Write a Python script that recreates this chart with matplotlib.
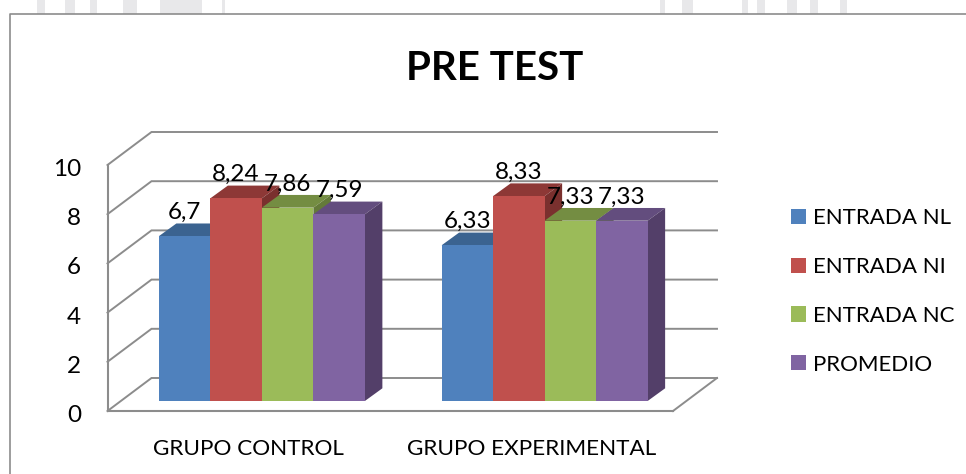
import matplotlib
matplotlib.use('Agg')
import matplotlib.pyplot as plt
from matplotlib.lines import Line2D
from matplotlib.patches import Rectangle
from matplotlib.transforms import ScaledTranslation

plt.rcParams['font.family'] = ['Lato', 'DejaVu Sans']

# Data
groups = ['GRUPO CONTROL', 'GRUPO EXPERIMENTAL']
entrada_nl = [6.7, 6.33]
entrada_ni = [8.24, 8.33]
entrada_nc = [7.86, 7.33]
promedio = [7.59, 7.33]
series_names = ['ENTRADA NL', 'ENTRADA NI', 'ENTRADA NC', 'PROMEDIO']
y_ticks = [0, 2, 4, 6, 8, 10]

# Colors: front, top, side
FRONT = ['#4F81BD', '#C0504D', '#9BBB59', '#8064A2']
TOP = ['#3B6390', '#8D3836', '#748D42', '#634D7E']
SIDE = ['#33557C', '#7A302E', '#647A39', '#533F69']
GRID = '#8C8C8C'

W, H = 966, 474
fig = plt.figure(figsize=(W / 100, H / 100), dpi=100, facecolor='white')


def fig_x(px):
    return px / W


def fig_y(px):
    return 1 - px / H


# Faint scan marks above the chart frame
for x0, x1 in [(37, 45), (65, 75), (90, 97), (123, 137), (160, 202), (222, 225),
               (660, 665), (682, 693), (742, 748), (757, 765), (787, 797), (810, 818), (840, 847)]:
    fig.add_artist(Rectangle((fig_x(x0), fig_y(14)), (x1 - x0) / W, 14 / H,
                             transform=fig.transFigure, color='#E8E8EA', lw=0))

# Chart frame, runs off the right and bottom
fig.add_artist(Line2D([fig_x(9.5), fig_x(9.5), 1], [0, fig_y(14), fig_y(14)],
                      color=GRID, lw=1.2, transform=fig.transFigure))

# Front plane of the 3D box
LEFT, RIGHT, BOTTOM, TOP_PX = 107.5, 673, 411, 165
ax = fig.add_axes([fig_x(LEFT), fig_y(BOTTOM), (RIGHT - LEFT) / W, (BOTTOM - TOP_PX) / H])
ax.set_xlim(0, len(groups))
ax.set_ylim(0, 10)
ax.patch.set_visible(False)

# Pixels to data units
ux = len(groups) / (RIGHT - LEFT)
uy = 10 / (BOTTOM - TOP_PX)

# Depth of the box, and where the bars sit in it
box_dx, box_dy = 44 * ux, 33 * uy
base_dx, base_dy = 13 * ux, 10 * uy
bar_dx, bar_dy = 17.5 * ux, 12.7 * uy
bar_w = 51.5 * ux

# Walls
for t in y_ticks:
    ax.plot([0, box_dx, len(groups) + box_dx], [t, t + box_dy, t + box_dy],
            color=GRID, lw=1.4, clip_on=False, zorder=1, solid_joinstyle='miter')
ax.plot([len(groups), len(groups) + box_dx], [0, box_dy], color=GRID, lw=1.4, clip_on=False, zorder=1)

# Bars, left to right so the nearer ones cover the side faces
all_series = [entrada_nl, entrada_ni, entrada_nc, promedio]
handles = []
for i, values in enumerate(all_series):
    lefts = [g + 0.5 + (i - 2) * bar_w + base_dx for g in range(len(groups))]
    for x, v in zip(lefts, values):
        top_y = v + base_dy
        ax.fill([x, x + bar_dx, x + bar_w + bar_dx, x + bar_w],
                [top_y, top_y + bar_dy, top_y + bar_dy, top_y],
                color=TOP[i], lw=0, clip_on=False, zorder=3 + i)
        ax.fill([x + bar_w, x + bar_w + bar_dx, x + bar_w + bar_dx, x + bar_w],
                [base_dy, base_dy + bar_dy, top_y + bar_dy, top_y],
                color=SIDE[i], lw=0, clip_on=False, zorder=3 + i)
    bars = ax.bar(lefts, values, bar_w, bottom=base_dy, align='edge', color=FRONT[i],
                  lw=0, clip_on=False, zorder=3 + i, label=series_names[i])
    handles.append(bars)
    for x, v in zip(lefts, values):
        ax.annotate(str(v).replace('.', ','), (x + bar_w / 2, v + base_dy), xytext=(0, 17),
                    textcoords='offset points', ha='center', va='center',
                    fontsize=17.5, color='black', zorder=20, annotation_clip=False)

# Axes
for side in ['top', 'right']:
    ax.spines[side].set_visible(False)
for side in ['left', 'bottom']:
    ax.spines[side].set_color(GRID)
    ax.spines[side].set_linewidth(1.5)
    ax.spines[side].set_zorder(2)
ax.set_yticks(y_ticks)
ax.set_xticks([g + 0.5 for g in range(len(groups))])
ax.set_xticklabels(groups)
ax.tick_params(axis='y', length=0, pad=19, labelsize=17.5)
ax.tick_params(axis='x', length=0, pad=20.5, labelsize=16.2)

# Value labels on the axis sit a little under their gridlines
shift = ScaledTranslation(0, -2.5 / 100, fig.dpi_scale_trans)
for lab in ax.get_yticklabels():
    lab.set_transform(lab.get_transform() + shift)

fig.text(fig_x(495), fig_y(68), 'PRE TEST', fontsize=29, fontweight='bold', ha='center', va='center')

# Legend
leg = ax.legend(handles=handles, labels=series_names, loc='upper left',
                bbox_to_anchor=(fig_x(791), fig_y(208)), bbox_transform=fig.transFigure,
                frameon=False, fontsize=16, borderpad=0, borderaxespad=0,
                handlelength=0.675, handleheight=0.675, handletextpad=0.32, labelspacing=1.3)

fig.savefig('out.png', dpi=100)
